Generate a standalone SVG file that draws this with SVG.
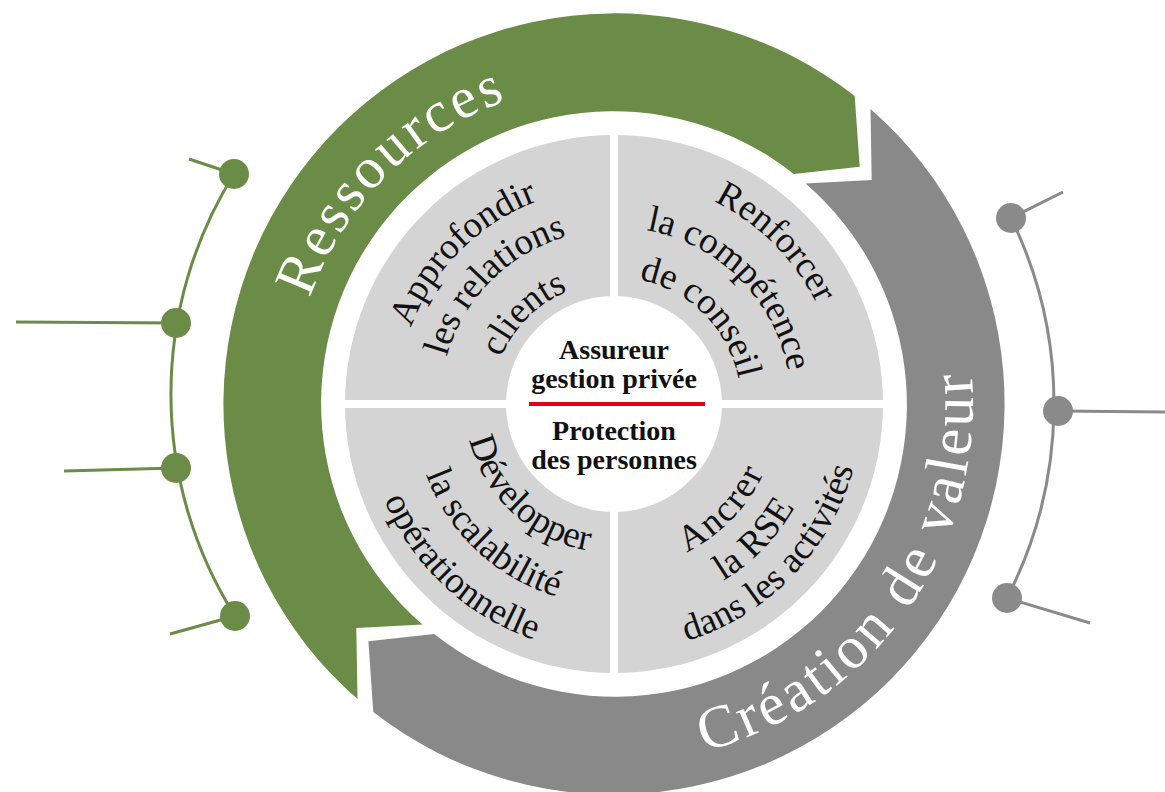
<svg xmlns="http://www.w3.org/2000/svg" width="1165" height="792" viewBox="0 0 1165 792">
<style>
.q{font-family:"Liberation Serif","Times New Roman",serif;font-size:37px;fill:#111;}
.band{font-family:"Liberation Serif","Times New Roman",serif;font-size:58px;fill:#fff;}
.c{font-family:"Liberation Serif","Times New Roman",serif;font-size:28px;font-weight:bold;fill:#111;text-anchor:middle;}
.gl{stroke:#6b8c46;stroke-width:3;fill:none;}
.gr{stroke:#8a8a8a;stroke-width:3;fill:none;}
.gd{fill:#6b8c46;}
.rd{fill:#8a8a8a;}
</style>
<defs>
<path id="cw217" d="M-213.7 -37.68 A217 217 0 0 1 213.7 -37.68"/>
<path id="cw174" d="M-171.36 -30.22 A174 174 0 0 1 171.36 -30.22"/>
<path id="cw122" d="M-120.15 -21.19 A122 122 0 0 1 120.15 -21.19"/>
<path id="cw226" d="M-222.57 -39.24 A226 226 0 0 1 222.57 -39.24"/>
<path id="cw177" d="M-174.31 -30.74 A177 177 0 0 1 174.31 -30.74"/>
<path id="cw127" d="M-125.07 -22.05 A127 127 0 0 1 125.07 -22.05"/>
<path id="ccw149" d="M-146.74 25.87 A149 149 0 0 0 146.74 25.87"/>
<path id="ccw201" d="M-197.95 34.9 A201 201 0 0 0 197.95 34.9"/>
<path id="ccw249" d="M-245.22 43.24 A249 249 0 0 0 245.22 43.24"/>
<path id="ccw165" d="M-162.49 28.65 A165 165 0 0 0 162.49 28.65"/>
<path id="ccw208" d="M-204.84 36.12 A208 208 0 0 0 204.84 36.12"/>
<path id="ccw248" d="M-244.23 43.07 A248 248 0 0 0 244.23 43.07"/>
<path id="pR" d="M-320.77 -28.07 A322 322 0 0 1 320.77 -28.07"/>
<path id="pC" d="M-357.63 31.29 A359 359 0 0 0 357.63 31.29"/>
</defs>
<rect width="1165" height="792" fill="#fff"/>

<g id="connectors">
<path class="gl" d="M234 174 A416 416 0 0 0 235 616"/>
<line class="gl" x1="234" y1="174" x2="189" y2="159"/>
<line class="gl" x1="176" y1="323" x2="16" y2="322"/>
<line class="gl" x1="176" y1="468" x2="64" y2="471"/>
<line class="gl" x1="235" y1="616" x2="170" y2="634"/>
<circle class="gd" cx="234" cy="174" r="15"/>
<circle class="gd" cx="176" cy="323" r="15"/>
<circle class="gd" cx="176" cy="468" r="15"/>
<circle class="gd" cx="235" cy="616" r="15"/>
<path class="gr" d="M1011 218 A424 424 0 0 1 1007 598"/>
<line class="gr" x1="1011" y1="218" x2="1063" y2="192"/>
<line class="gr" x1="1058" y1="411" x2="1165" y2="412"/>
<line class="gr" x1="1007" y1="598" x2="1090" y2="623"/>
<circle class="rd" cx="1011" cy="218" r="15"/>
<circle class="rd" cx="1058" cy="411" r="15"/>
<circle class="rd" cx="1007" cy="598" r="15"/>
</g>

<g id="ressources">
<path fill="#6b8c46" d="M357.5 699.1 A391 391 0 0 1 854.7 95.9 L859.7 166.8 L793.8 173.9 A292 292 0 0 0 422.4 624.4 L356.3 628 Z"/>
<text class="band" text-anchor="middle" letter-spacing="3" transform="translate(614 404) rotate(-45)"><textPath href="#pR" startOffset="50%">Ressources</textPath></text>
</g>

<g id="creation-de-valeur">
<path fill="#898989" d="M870.5 108.9 A391 391 0 0 1 373.3 712.1 L368.4 641.2 L434.2 634.1 A292 292 0 0 0 805.6 183.6 L871.7 180 Z"/>
<text class="band" text-anchor="middle" letter-spacing="3.5" style="font-size:60px" transform="translate(614 404) rotate(-55)"><textPath href="#pC" startOffset="50%">Création de valeur</textPath></text>
</g>

<g id="disk">
<circle cx="614" cy="404" r="269" fill="#d4d4d4"/>
<rect x="610" y="130" width="8" height="548" fill="#fff"/>
<rect x="340" y="400" width="548" height="8" fill="#fff"/>
</g>

<g id="q-relations" transform="translate(614 404) rotate(-45)">
<text class="q" text-anchor="middle"><textPath href="#cw217" startOffset="50%">Approfondir</textPath></text>
<text class="q" text-anchor="middle"><textPath href="#cw174" startOffset="50%">les relations</textPath></text>
<text class="q" text-anchor="middle"><textPath href="#cw122" startOffset="50%">clients</textPath></text>
</g>

<g id="q-conseil" transform="translate(614 404) rotate(45)">
<text class="q" text-anchor="middle"><textPath href="#cw226" startOffset="50%">Renforcer</textPath></text>
<text class="q" text-anchor="middle"><textPath href="#cw177" startOffset="50%">la compétence</textPath></text>
<text class="q" text-anchor="middle"><textPath href="#cw127" startOffset="50%">de conseil</textPath></text>
</g>

<g id="q-scalabilite" transform="translate(614 404) rotate(43)">
<text class="q" text-anchor="middle"><textPath href="#ccw149" startOffset="50%">Développer</textPath></text>
<text class="q" text-anchor="middle"><textPath href="#ccw201" startOffset="50%">la scalabilité</textPath></text>
<text class="q" text-anchor="middle"><textPath href="#ccw249" startOffset="50%">opérationnelle</textPath></text>
</g>

<g id="q-rse" transform="translate(614 404) rotate(-46)">
<text class="q" text-anchor="middle" letter-spacing="2"><textPath href="#ccw165" startOffset="50%">Ancrer</textPath></text>
<text class="q" text-anchor="middle"><textPath href="#ccw208" startOffset="50%">la RSE</textPath></text>
<text class="q" text-anchor="middle"><textPath href="#ccw248" startOffset="50%">dans les activités</textPath></text>
</g>

<g id="center">
<circle cx="614" cy="404" r="108" fill="#fff"/>
<text class="c" x="614" y="359">Assureur</text>
<text class="c" x="614" y="388">gestion privée</text>
<rect x="529" y="402" width="176" height="4" fill="#e2001a"/>
<text class="c" x="614" y="440">Protection</text>
<text class="c" x="614" y="469">des personnes</text>
</g>
</svg>
